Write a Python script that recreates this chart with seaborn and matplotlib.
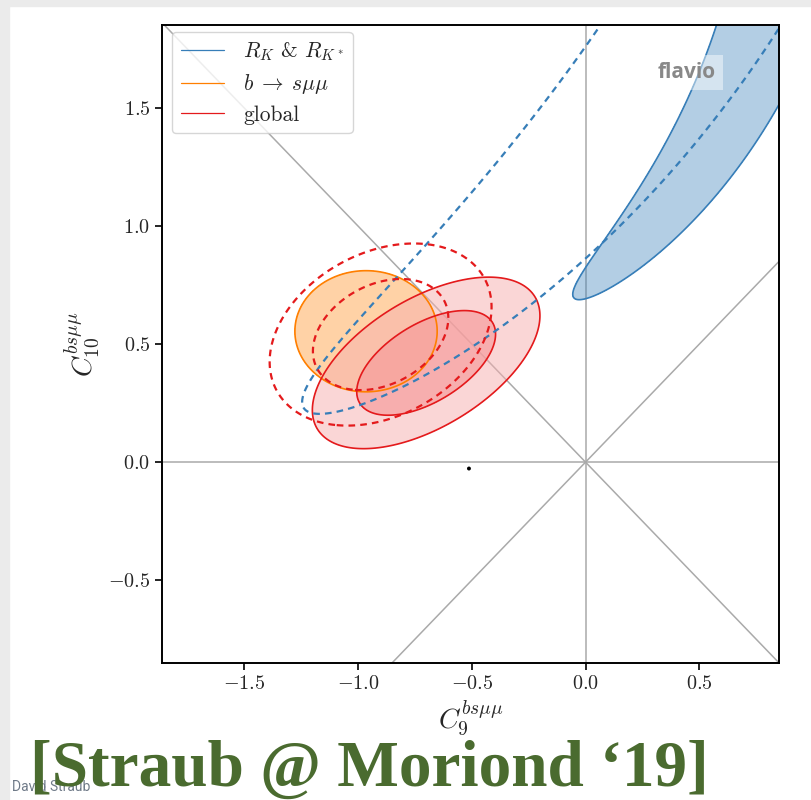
import numpy as np
import matplotlib
matplotlib.use('Agg')
import matplotlib.pyplot as plt
from matplotlib.lines import Line2D
from matplotlib.patches import Rectangle
import seaborn as sns

## fit results in the (C9, C10) plane

# global fit (new): best fit point, widths, correlation
global_best = [-0.70, 0.42]
global_sigma = [0.201, 0.146]
global_rho = 0.55

# b -> s mu mu only
bsmumu_best = [-0.964, 0.554]
bsmumu_sigma = [0.206, 0.169]
bsmumu_rho = 0.0

# global fit before Moriond '19 (dashed)
global_old_best = [-0.90, 0.54]
global_old_sigma = [0.196, 0.155]
global_old_rho = 0.3

# R_K & R_K* regions are curved bands: pole, radius and radial width, angle and angular width (deg)
rk_new_pole = [-1.72, 2.80]
rk_new_radius = [2.685, 0.188]
rk_new_angle = [48.5, 66.0]

rk_old_pole = [-4.4, 5.25]
rk_old_radius = [5.933, 0.2175]
rk_old_angle = [-30.8, 17.8]

sm_dot = [-0.512, -0.027]

# 1 and 2 sigma in 2D
levels_2d = [2.30, 6.18]

sns.set_style('ticks')
plt.rcParams['font.family'] = ['cmr10']
plt.rcParams['mathtext.fontset'] = 'cm'
plt.rcParams['axes.formatter.use_mathtext'] = True
plt.rcParams['lines.dashed_pattern'] = [3, 2.3]


def chi2_gauss(X, Y, best, sigma, rho):
    dx = (X - best[0]) / sigma[0]
    dy = (Y - best[1]) / sigma[1]
    return (dx**2 - 2 * rho * dx * dy + dy**2) / (1 - rho**2)


def chi2_band(X, Y, pole, radius, angle):
    r = np.hypot(X - pole[0], Y - pole[1])
    phi = np.degrees(np.arctan2(Y - pole[1], X - pole[0]))
    return ((r - radius[0]) / radius[1])**2 + ((phi - angle[0]) / angle[1])**2


xg = np.linspace(-2.3, 1.3, 700)
yg = np.linspace(-1.3, 2.3, 700)
X, Y = np.meshgrid(xg, yg)

fig = plt.figure(figsize=(8.12, 8.0), dpi=100)
# slide background strips
fig.patches.append(Rectangle((0, 0), 9 / 812, 1, transform=fig.transFigure, color='#ebebeb', zorder=-1))
fig.patches.append(Rectangle((0, 1 - 6 / 800), 1, 6 / 800, transform=fig.transFigure, color='#ebebeb', zorder=-1))
ax = fig.add_axes([0.1995, 0.17125, 0.760, 0.7975])

line_col = '#aaaaaa'
ax.axhline(0, color=line_col, lw=1.1, zorder=0)
ax.axvline(0, color=line_col, lw=1.1, zorder=0)
ax.axline((0, 0), slope=1, color=line_col, lw=1.1, zorder=0)
ax.axline((0, 0), slope=-1, color=line_col, lw=1.1, zorder=0)

blue = '#377eb8'
orange = '#ff7f00'
red = '#e41a1c'

# R_K & R_K* (new)
chi_rk = chi2_band(X, Y, rk_new_pole, rk_new_radius, rk_new_angle)
ax.contourf(X, Y, chi_rk, levels=[0, levels_2d[0]], colors=[blue], alpha=0.38)

# b -> s mu mu
chi_b = chi2_gauss(X, Y, bsmumu_best, bsmumu_sigma, bsmumu_rho)
ax.contourf(X, Y, chi_b, levels=[0, levels_2d[0]], colors=[orange], alpha=0.35)

# global, drawn on top of b -> s mu mu
chi_g = chi2_gauss(X, Y, global_best, global_sigma, global_rho)
ax.contourf(X, Y, chi_g, levels=[0, levels_2d[1]], colors=['#f7afaf'], alpha=0.5)
ax.contourf(X, Y, chi_g, levels=[0, levels_2d[0]], colors=['#f69b9b'], alpha=0.667)

ax.contour(X, Y, chi_rk, levels=[levels_2d[0]], colors=[blue], linewidths=1.2)
ax.contour(X, Y, chi_b, levels=[levels_2d[0]], colors=[orange], linewidths=1.2)
ax.contour(X, Y, chi_g, levels=levels_2d, colors=[red], linewidths=1.2)

# previous results, dashed
chi_rk_old = chi2_band(X, Y, rk_old_pole, rk_old_radius, rk_old_angle)
ax.contour(X, Y, chi_rk_old, levels=[levels_2d[0]], colors=[blue], linewidths=1.6, linestyles='dashed')
chi_o = chi2_gauss(X, Y, global_old_best, global_old_sigma, global_old_rho)
ax.contour(X, Y, chi_o, levels=levels_2d, colors=[red], linewidths=1.6, linestyles='dashed')

sns.scatterplot(x=[sm_dot[0]], y=[sm_dot[1]], ax=ax, color='black', s=8, edgecolor='none')

ax.set_xlim(-1.86, 0.85)
ax.set_ylim(-0.85, 1.85)
ax.set_xticks([-1.5, -1.0, -0.5, 0.0, 0.5])
ax.set_yticks([-0.5, 0.0, 0.5, 1.0, 1.5])
ax.tick_params(labelsize=14.5, length=5, width=1.2, color='black')
for s in ax.spines.values():
    s.set_color('black')
    s.set_linewidth(1.4)
ax.set_xlabel(r'$C_9^{bs\mu\mu}$', fontsize=20, labelpad=4)
ax.set_ylabel(r'$C_{10}^{bs\mu\mu}$', fontsize=20, labelpad=4)

handles = [Line2D([], [], color=blue, lw=0.9), Line2D([], [], color=orange, lw=0.9), Line2D([], [], color=red, lw=0.9)]
labels = [r'$R_K$ & $R_{K^*}$', r'$b\;\to\;s\mu\mu$', 'global']
ax.legend(handles, labels, loc='upper left', bbox_to_anchor=(10 / 617, 1 - 7 / 638), borderaxespad=0,
          fontsize=15.5, frameon=True, framealpha=0.8, edgecolor='#cccccc',
          labelspacing=0.42, handlelength=2.0, handletextpad=0.9)

ax.text(0.851, 0.926, 'flavio', transform=ax.transAxes, ha='center', va='center', fontsize=15,
        fontweight='bold', family='Open Sans', color='#888888',
        bbox=dict(facecolor='white', alpha=0.45, edgecolor='none', pad=5))

fig.text(12 / 812, 9 / 800, 'David Straub', fontsize=10, family='Roboto', color='#6f7a88', ha='left', va='baseline')
fig.text(30 / 812, 14 / 800, '[Straub @ Moriond \u201819]', fontsize=47, fontweight='bold',
         family='Liberation Serif', color='#4a6b2f', ha='left', va='baseline')

fig.savefig('out.png', dpi=100, facecolor='white')
